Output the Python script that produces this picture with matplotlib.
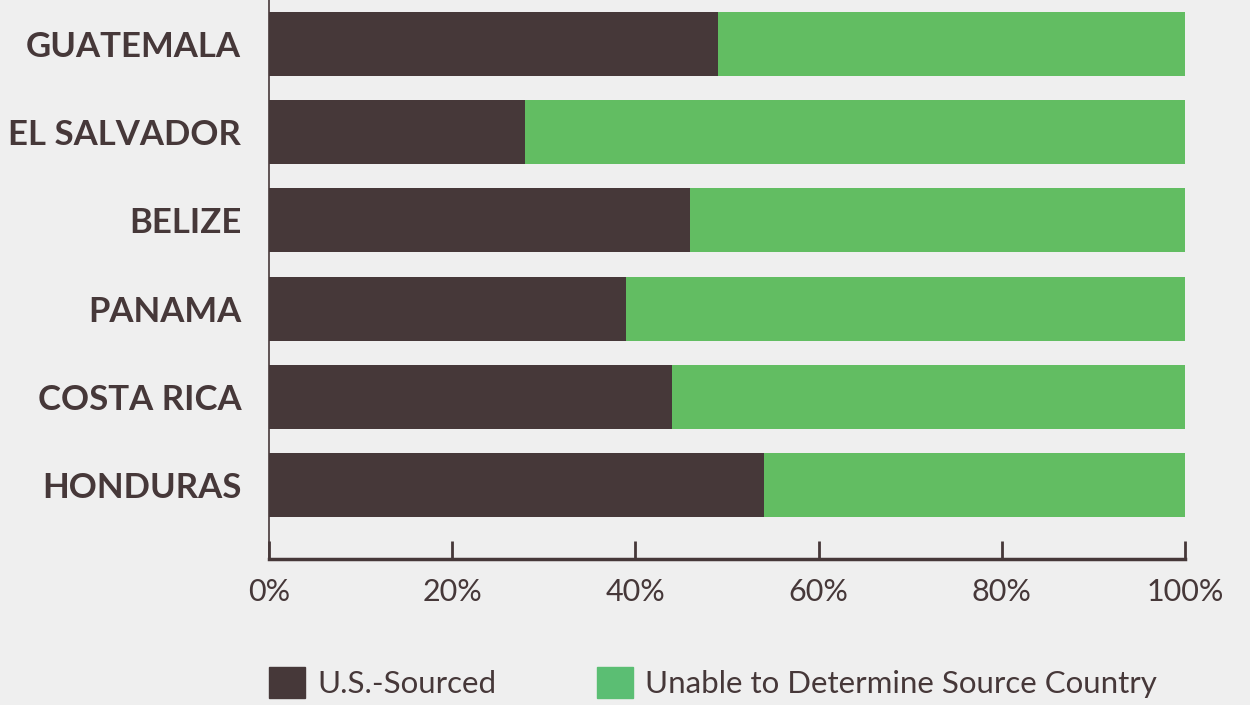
import matplotlib.pyplot as plt
from matplotlib.patches import Patch

countries = ['GUATEMALA', 'EL SALVADOR', 'BELIZE', 'PANAMA', 'COSTA RICA', 'HONDURAS']
us_sourced = [49, 28, 46, 39, 44, 54]
unknown = [100 - v for v in us_sourced]
ticks = [0, 20, 40, 60, 80, 100]
tick_labels = ['0%', '20%', '40%', '60%', '80%', '100%']

brown = '#463839'
green = '#62bd62'
bg = '#efefef'

plt.rcParams['font.family'] = ['Lato', 'DejaVu Sans']

fig = plt.figure(figsize=(12.5, 7.05), dpi=100, facecolor=bg)
ax = fig.add_axes([269 / 1250, 146 / 705, 916 / 1250, 559 / 705])
ax.set_facecolor(bg)

y = list(range(len(countries)))[::-1]
ax.barh(y, us_sourced, height=0.727, color=brown)
ax.barh(y, unknown, left=us_sourced, height=0.727, color=green)

ax.set_xlim(0, 100)
ax.set_ylim(-0.84, 5.5)
ax.set_yticks(y)
ax.set_yticklabels(countries, fontsize=25, fontweight='bold', color=brown)
ax.tick_params(axis='y', length=0, pad=20)
ax.set_xticks(ticks)
ax.set_xticklabels(tick_labels, fontsize=22, color=brown)
ax.tick_params(axis='x', direction='in', length=13, width=2, color=brown, pad=14)

for s in ['top', 'right']:
    ax.spines[s].set_visible(False)
ax.spines['bottom'].set_color(brown)
ax.spines['bottom'].set_linewidth(2.5)
ax.spines['left'].set_color(brown)
ax.spines['left'].set_linewidth(1.2)

# legend sits at the bottom edge, squares partly cut off like the original
handles = [Patch(color=brown), Patch(color='#5bbe73')]
fig.legend(handles, ['U.S.-Sourced', 'Unable to Determine Source Country'],
           ncol=2, loc='upper left', bbox_to_anchor=(269 / 1250, 1 - 667 / 705),
           frameon=False, prop={'size': 22.5},
           handlelength=1.15, handleheight=1.15,
           handletextpad=0.4, columnspacing=3.2, borderpad=0, borderaxespad=0,
           labelcolor=brown)

fig.savefig('out.png', dpi=100, facecolor=bg)
